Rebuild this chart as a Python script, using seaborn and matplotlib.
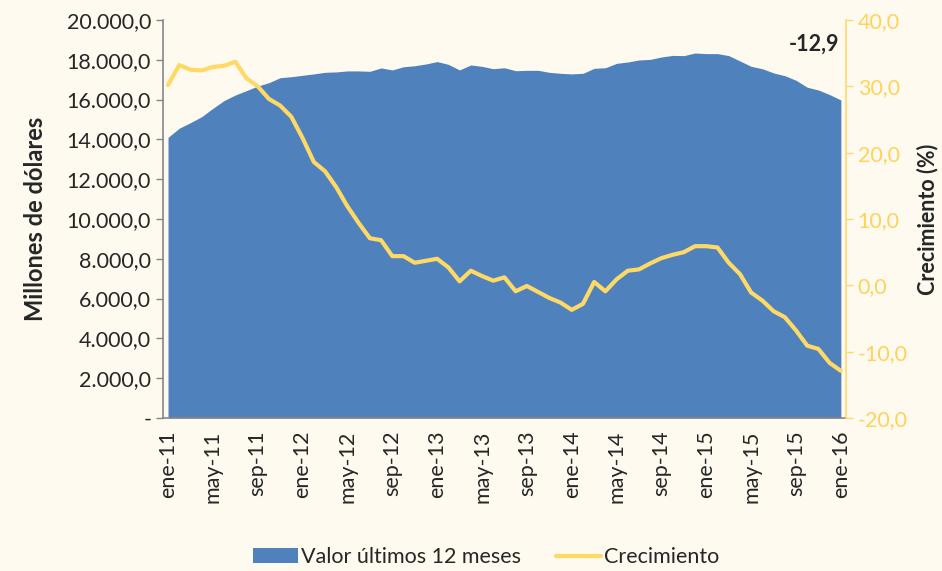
import numpy as np
import pandas as pd
import matplotlib
matplotlib.use("Agg")
import matplotlib.pyplot as plt
import seaborn as sns
from matplotlib.patches import Patch
from matplotlib.lines import Line2D

# monthly data, ene-11 .. ene-16
meses = ["ene", "feb", "mar", "abr", "may", "jun", "jul", "ago", "sep", "oct", "nov", "dic"]
fechas = [f"{meses[i % 12]}-{11 + i // 12}" for i in range(61)]

valor_12m = [14100, 14560, 14840, 15140, 15560, 15950, 16230, 16450, 16680, 16850, 17100, 17150,
             17220, 17290, 17370, 17390, 17440, 17440, 17420, 17590, 17490, 17650, 17700, 17790,
             17910, 17770, 17490, 17740, 17670, 17550, 17600, 17450, 17470, 17470, 17370, 17320,
             17290, 17320, 17570, 17600, 17820, 17890, 17990, 18020, 18140, 18220, 18210, 18340,
             18310, 18310, 18210, 17940, 17670, 17550, 17340, 17200, 16970, 16620, 16480, 16250,
             15980]

crecimiento = [30.2, 33.2, 32.5, 32.4, 32.9, 33.1, 33.7, 31.2, 30.0, 28.1, 27.1, 25.4,
               22.2, 18.6, 17.2, 14.8, 11.9, 9.4, 7.1, 6.8, 4.4, 4.4, 3.4, 3.7,
               4.0, 2.7, 0.6, 2.2, 1.4, 0.7, 1.2, -0.9, -0.1, -1.0, -1.9, -2.6,
               -3.7, -2.8, 0.5, -0.9, 0.9, 2.2, 2.4, 3.3, 4.1, 4.6, 5.0, 5.9,
               5.9, 5.7, 3.4, 1.7, -1.1, -2.3, -3.9, -4.8, -6.8, -9.1, -9.6, -11.7,
               -12.9]

df = pd.DataFrame({"idx": np.arange(len(fechas)), "fecha": fechas,
                   "valor": valor_12m, "crec": crecimiento})

bg = "#FEFAF0"
azul = "#4F81BD"
amarillo = "#FFD966"
amarillo_txt = "#FFD35A"
fs = 15.5

sns.set_style("white")
plt.rcParams["font.family"] = ["Lato", "DejaVu Sans"]

fig = plt.figure(figsize=(9.42, 5.71), dpi=100, facecolor=bg)
ax = fig.add_axes([0.173, 0.268, 0.725, 0.697])
ax.set_facecolor(bg)

# area: left axis
sns.lineplot(data=df, x="idx", y="valor", ax=ax, color=azul, linewidth=0)
ax.fill_between(df["idx"], 0, df["valor"], color=azul, linewidth=0)
ax.set_ylim(0, 20000)
ax.set_xlim(-0.45, 60.45)
ax.set_yticks(range(0, 20001, 2000))
ax.set_yticklabels(["-"] + [f"{v:,.1f}".replace(",", "X").replace(".", ",").replace("X", ".")
                            for v in range(2000, 20001, 2000)], fontsize=fs)
ax.set_xticks(df["idx"][::4])
ax.set_xticklabels(df["fecha"][::4], rotation=90, fontsize=fs)
ax.set_xlabel("")
ax.set_ylabel("Millones de dólares", fontsize=17, fontweight="bold", labelpad=14)
ax.tick_params(axis="both", direction="out", length=5, color="#868686", width=1)
ax.tick_params(axis="x", pad=4)
for s in ["top", "right"]:
    ax.spines[s].set_visible(False)
for s in ["left", "bottom"]:
    ax.spines[s].set_color("#868686")
    ax.spines[s].set_linewidth(1.2)

# growth line: right axis
ax2 = ax.twinx()
sns.lineplot(data=df, x="idx", y="crec", ax=ax2, color=amarillo, linewidth=3)
ax2.set_ylim(-20, 40)
ax2.set_yticks(range(-20, 41, 10))
ax2.set_yticklabels([f"{v:.1f}".replace(".", ",") for v in range(-20, 41, 10)],
                    fontsize=fs, color=amarillo_txt)
ax2.set_ylabel("Crecimiento (%)", fontsize=15.5, fontweight="bold")
ax2.yaxis.set_label_coords(1.103, 0.5)
ax2.tick_params(axis="y", direction="out", length=5, color=amarillo, width=1)
for s in ["top", "left", "bottom"]:
    ax2.spines[s].set_visible(False)
ax2.spines["right"].set_color(amarillo)
ax2.spines["right"].set_linewidth(1.2)
ax2.set_xlim(-0.45, 60.45)

ax2.annotate(f"{crecimiento[-1]:.1f}".replace(".", ","), xy=(df["idx"].iloc[-1], crecimiento[-1]),
             xytext=(59.9, 36.4), ha="right", va="center", fontsize=fs, fontweight="bold")

handles = [Patch(facecolor=azul, edgecolor="none"),
           Line2D([0], [0], color=amarillo, linewidth=3)]
fig.legend(handles, ["Valor últimos 12 meses", "Crecimiento"], loc="center",
           bbox_to_anchor=(0.516, 0.024), ncol=2, frameon=False, fontsize=fs,
           handlelength=2.1, handletextpad=0.15, columnspacing=1.6)

fig.savefig("out.png", dpi=100, facecolor=bg)
